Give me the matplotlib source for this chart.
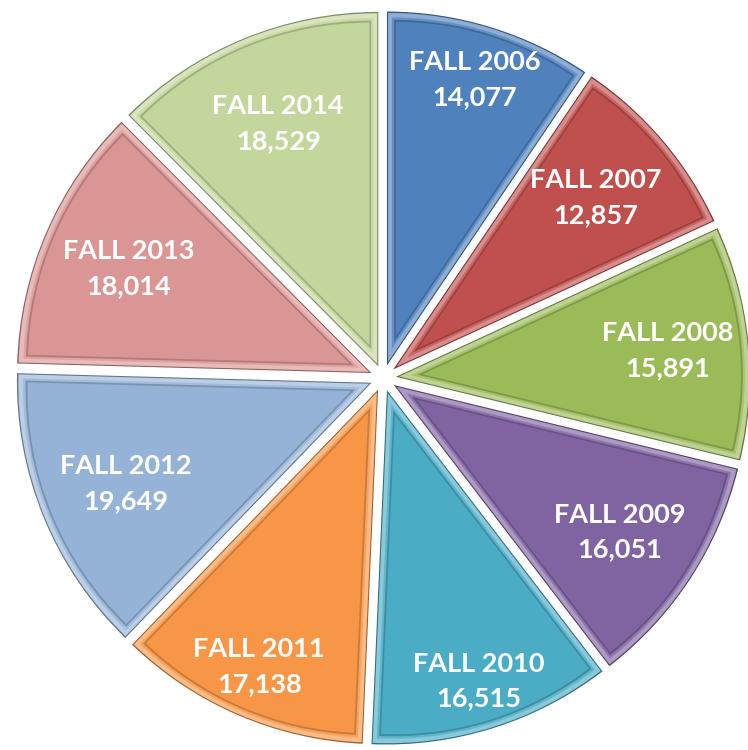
import matplotlib
matplotlib.use('Agg')
import matplotlib.pyplot as plt
from matplotlib.patches import Wedge
import matplotlib.colors as mcolors
import numpy as np

terms = ['FALL 2006', 'FALL 2007', 'FALL 2008', 'FALL 2009', 'FALL 2010',
         'FALL 2011', 'FALL 2012', 'FALL 2013', 'FALL 2014']
enrollment = [14077, 12857, 15891, 16051, 16515, 17138, 19649, 18014, 18529]
slice_colors = ['#4F81BD', '#C0504D', '#9BBB59', '#8064A2', '#4BACC6',
                '#F79646', '#95B3D7', '#D99694', '#C3D69B']

# label radial placement (style), relative to the exploded slice centre
label_r = [0.845, 0.75, 0.77, 0.76, 0.86, 0.85, 0.75, 0.746, 0.74]


def mix(c, other, t):
    a = np.array(mcolors.to_rgb(c))
    b = np.array(mcolors.to_rgb(other))
    return tuple(a * (1 - t) + b * t)


fig = plt.figure(figsize=(7.48, 7.5), dpi=100)
ax = fig.add_axes([0, 0, 1, 1])

labels = [f'{t}\n{v:,}' for t, v in zip(terms, enrollment)]
dark = [mix(c, 'black', 0.35) for c in slice_colors]

wedges, texts = ax.pie(
    enrollment, colors=dark, startangle=90, counterclock=False,
    explode=[0.03] * len(enrollment), labels=labels, labeldistance=0.8,
    wedgeprops=dict(edgecolor='white', linewidth=1.0),
    textprops=dict(color='white', fontsize=19.5, fontweight='bold',
                   family=['Lato', 'DejaVu Sans'], linespacing=1.55))


def inset(w, d, color, z):
    t1, t2 = w.theta1, w.theta2
    h = np.radians((t2 - t1) / 2)
    mid = np.radians((t1 + t2) / 2)
    shift = d / np.sin(h)
    cx = w.center[0] + shift * np.cos(mid)
    cy = w.center[1] + shift * np.sin(mid)
    r = w.r - d - shift
    p = Wedge((cx, cy), r, t1, t2, facecolor=color, edgecolor='none', zorder=z)
    ax.add_patch(p)


for w, c in zip(wedges, slice_colors):
    inset(w, 0.005, mix(c, 'white', 0.35), 2.1)
    inset(w, 0.016, mix(c, 'white', 0.12), 2.2)
    inset(w, 0.022, mix(c, 'black', 0.18), 2.3)
    inset(w, 0.027, c, 2.4)

for w, t, lr in zip(wedges, texts, label_r):
    mid = np.radians((w.theta1 + w.theta2) / 2)
    t.set_position((w.center[0] + lr * np.cos(mid), w.center[1] + lr * np.sin(mid)))
    t.set_ha('center')
    t.set_va('center')
    t.set_zorder(5)

ax.set_xlim(-1.073, 1.022)
ax.set_ylim(-1.042, 1.059)
ax.set_aspect('equal')
ax.axis('off')

fig.savefig('out.png', dpi=100, facecolor='white')
